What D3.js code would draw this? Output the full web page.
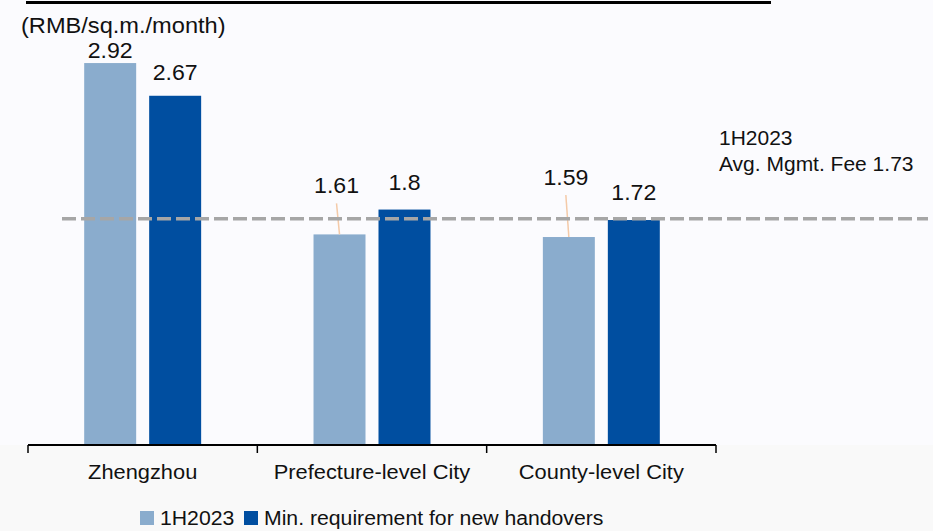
<!DOCTYPE html>
<html>
<head>
<meta charset="utf-8">
<script src="https://cdn.jsdelivr.net/npm/d3@7"></script>
<style>
  html, body { margin: 0; padding: 0; background: #fcfcfe; }
  svg { display: block; font-family: "Liberation Sans", Arial, sans-serif; }
</style>
</head>
<body>
<svg id="chart" width="933" height="531"></svg>
<script>
// Management fee by city tier (RMB per sq.m. per month)
const categories = ["Zhengzhou", "Prefecture-level City", "County-level City"];
const seriesNames = ["1H2023", "Min. requirement for new handovers"];
const fee1H2023 = [2.92, 1.61, 1.59];
const minRequirement = [2.67, 1.8, 1.72];
const avgFee = 1.73;
const avgLabel = ["1H2023", "Avg. Mgmt. Fee " + avgFee];
const unitLabel = "(RMB/sq.m./month)";

// Label nudges per [category][series]: [dx, dy from bar top]
const labelNudge = [
  [[0, -5], [0, -16]],
  [[-3, -41], [0, -20]],
  [[-3, -52], [0, -20]]
];

const colors = ["#8aaccd", "#004ea0"];
const SX = 1.05; // horizontal text stretch

const svg = d3.select("#chart");
const W = 933, H = 531;
const baseY = 445;

// background panels
svg.append("rect").attr("x", 0).attr("y", 0).attr("width", W).attr("height", baseY).attr("fill", "#fbfbfe");
svg.append("rect").attr("x", 0).attr("y", baseY).attr("width", W).attr("height", H - baseY).attr("fill", "#f9f9f9");

// top rule
svg.append("rect").attr("x", 26).attr("y", 1).attr("width", 745).attr("height", 3).attr("fill", "#000");

const x = d3.scaleBand().domain(categories).range([28, 716]).paddingInner(0.49).paddingOuter(0.245);
const xs = d3.scaleBand().domain([0, 1]).range([0, x.bandwidth()]).paddingInner(0.2).paddingOuter(0);
const y = d3.scaleLinear().domain([0, 3]).range([baseY, baseY - 3 * 130.8]);

const rows = categories.map((c, i) => ({ cat: c, i, vals: [fee1H2023[i], minRequirement[i]] }));

const groups = svg.append("g").selectAll("g").data(rows).join("g")
  .attr("transform", d => `translate(${x(d.cat)},0)`);

groups.selectAll("rect").data(d => d.vals.map((v, s) => ({ v, s, i: d.i }))).join("rect")
  .attr("x", d => xs(d.s))
  .attr("y", d => y(d.v))
  .attr("width", xs.bandwidth())
  .attr("height", d => y(0) - y(d.v))
  .attr("fill", d => colors[d.s]);

// average reference line
svg.append("line")
  .attr("x1", 62).attr("x2", 928)
  .attr("y1", y(avgFee)).attr("y2", y(avgFee))
  .attr("stroke", "#a6a6a6").attr("stroke-width", 3.5)
  .attr("stroke-dasharray", "14,5");

// value labels with leader lines where lifted
groups.each(function (d) {
  const g = d3.select(this);
  d.vals.forEach((v, s) => {
    const [dx, dy] = labelNudge[d.i][s];
    const cx = xs(s) + xs.bandwidth() / 2;
    const ty = y(v) + dy;
    if (dy < -30) {
      g.append("line")
        .attr("x1", cx + dx).attr("y1", ty + 10)
        .attr("x2", cx).attr("y2", y(v))
        .attr("stroke", "#f4caa8").attr("stroke-width", 1.5);
    }
    g.append("text")
      .attr("transform", `translate(${cx + dx},${ty}) scale(${SX},1)`)
      .attr("text-anchor", "middle")
      .attr("font-size", 22)
      .attr("fill", "#111")
      .text(v);
  });
});

// x axis: baseline, boundary ticks, category labels
const axisG = svg.append("g").attr("transform", `translate(0,${baseY})`);
axisG.call(d3.axisBottom(x).tickSize(0).tickPadding(19));
axisG.select(".domain").remove();
axisG.selectAll(".tick text")
  .attr("font-size", 20.8)
  .attr("font-family", "Liberation Sans, Arial, sans-serif")
  .attr("fill", "#111")
  .attr("transform", `scale(${SX},1)`);
const [r0, r1] = x.range();
axisG.append("line").attr("x1", r0).attr("x2", r1).attr("y1", 0).attr("y2", 0)
  .attr("stroke", "#000").attr("stroke-width", 2);
const bounds = d3.range(categories.length + 1).map(k => r0 + k * (r1 - r0) / categories.length);
axisG.selectAll(".bound").data(bounds).join("line").attr("class", "bound")
  .attr("x1", d => d).attr("x2", d => d).attr("y1", 0).attr("y2", 8)
  .attr("stroke", "#000").attr("stroke-width", 1.5);

// unit label
svg.append("text")
  .attr("transform", `translate(21,33) scale(${SX},1)`)
  .attr("font-size", 22.5).attr("fill", "#111")
  .text(unitLabel);

// average annotation
svg.append("g").selectAll("text").data(avgLabel).join("text")
  .attr("transform", (d, k) => `translate(719,${145 + k * 26}) scale(${SX},1)`)
  .attr("font-size", 20).attr("fill", "#111")
  .text(d => d);

// legend
const legendPos = [140, 244];
const legend = svg.append("g").selectAll("g").data(seriesNames).join("g")
  .attr("transform", (d, k) => `translate(${legendPos[k]},511)`);
legend.append("rect").attr("width", 14).attr("height", 14).attr("fill", (d, k) => colors[k]);
legend.append("text")
  .attr("transform", `translate(20,14) scale(${SX},1)`)
  .attr("font-size", 20.2).attr("fill", "#111")
  .text(d => d);
</script>
</body>
</html>
